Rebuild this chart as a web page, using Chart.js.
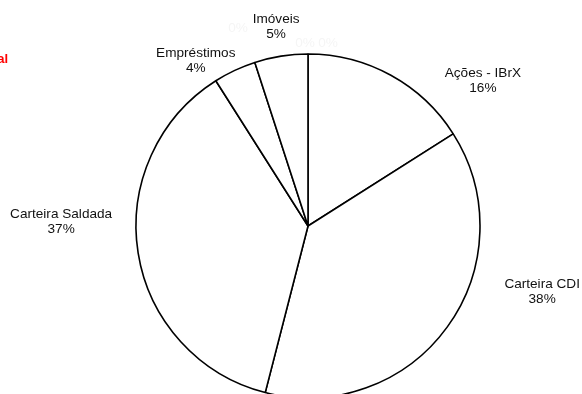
<!DOCTYPE html>
<html>
<head>
<meta charset="utf-8">
<script src="https://cdn.jsdelivr.net/npm/chart.js@4.4.0/dist/chart.umd.min.js"></script>
<style>
  html, body { margin: 0; padding: 0; background: #fff; }
  #wrap { position: relative; width: 582px; height: 394px; }
</style>
</head>
<body>
<div id="wrap"><canvas id="graf" width="582" height="394"></canvas></div>
<script>
// dados da pizza (percentuais)
var categorias = ["Ações - IBrX", "Carteira CDI", "Carteira Saldada", "Empréstimos", "Imóveis", "", "", ""];
var valores = [16, 38, 37, 4, 5, 0, 0, 0];
var rotulos = ["16%", "38%", "37%", "4%", "5%", "0%", "0%", "0%"];

// deslocamento dos rótulos a partir do ponto médio da borda de cada fatia
var deslocRotulos = [[92, 5], [95, -35], [-77, -31], [-39, -10], [-5, -29], [-70, -26], [-3, -11], [20, -11]];

const rotulosPizza = {
  id: "rotulosPizza",
  afterDatasetsDraw(chart) {
    const ctx = chart.ctx;
    const meta = chart.getDatasetMeta(0);
    ctx.save();
    ctx.font = "13.6px 'Liberation Sans', Arial, sans-serif";
    ctx.textAlign = "center";
    ctx.textBaseline = "middle";
    meta.data.forEach(function (arc, i) {
      const p = arc.getProps(["x", "y", "startAngle", "endAngle", "outerRadius"], true);
      const meio = (p.startAngle + p.endAngle) / 2;
      const cx = p.x + Math.cos(meio) * p.outerRadius + deslocRotulos[i][0];
      const cy = p.y + Math.sin(meio) * p.outerRadius + deslocRotulos[i][1];
      if (valores[i] === 0) {
        // rótulos de fatias vazias quase invisíveis
        ctx.fillStyle = "#f5f5f5";
        ctx.fillText(rotulos[i], cx, cy);
      } else {
        ctx.fillStyle = "#111";
        ctx.fillText(categorias[i], cx, cy - 7.5);
        ctx.fillText(rotulos[i], cx, cy + 7.5);
      }
    });
    // titulo cortado em vermelho
    ctx.fillStyle = "#ff0000";
    ctx.font = "bold 13px 'Liberation Sans', Arial, sans-serif";
    ctx.textAlign = "right";
    ctx.textBaseline = "alphabetic";
    ctx.fillText("al", 8, 63);
    ctx.restore();
  }
};

const grafico = new Chart(document.getElementById("graf"), {
  type: "pie",
  data: {
    labels: categorias,
    datasets: [
      {
        data: valores,
        backgroundColor: "#ffffff",
        borderColor: "#000000",
        borderWidth: 1.6,
        radius: 172,
      },
    ],
  },
  options: {
    responsive: false,
    animation: false,
    devicePixelRatio: 1,
    layout: { padding: { left: 34, right: 0, top: 58, bottom: 0 } },
    plugins: {
      legend: { display: false },
      tooltip: { enabled: false },
    },
  },
  plugins: [rotulosPizza],
});
</script>
</body>
</html>
